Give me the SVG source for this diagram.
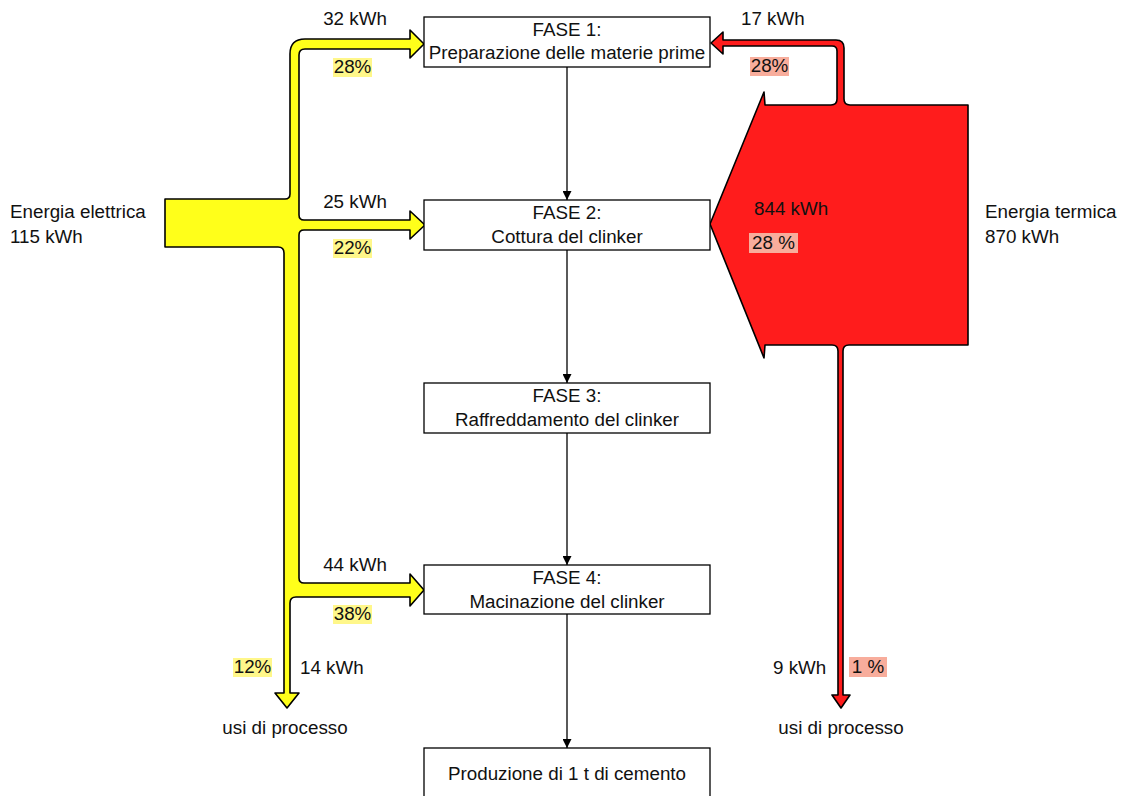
<svg xmlns="http://www.w3.org/2000/svg" width="1126" height="796" viewBox="0 0 1126 796">
  <defs>
    <style>
      text { font-family: "Liberation Sans", Arial, sans-serif; font-size: 18.8px; fill: #111; }
      .mid { text-anchor: middle; }
      .box { fill: #fff; stroke: #000; stroke-width: 1.3; }
      .flow-y { fill: #ffff1a; stroke: #000; stroke-width: 1.6; stroke-linejoin: round; }
      .flow-r { fill: #ff1c1c; stroke: #000; stroke-width: 1.6; stroke-linejoin: round; }
      .hl-y { fill: #fff78a; }
      .hl-r { fill: #f8ad9c; }
      .link { stroke: #000; stroke-width: 1.3; fill: none; }
    </style>
    <marker id="arr" viewBox="0 0 10 10" refX="10" refY="5" markerWidth="9" markerHeight="9" markerUnits="userSpaceOnUse" orient="auto">
      <path d="M0,0 L10,5 L0,10 Z" fill="#000"/>
    </marker>
  </defs>

  <rect width="1126" height="796" fill="#fff"/>

  <!-- process chain links -->
  <g id="connectors">
    <line class="link" x1="567" y1="67" x2="567" y2="200" marker-end="url(#arr)"/>
    <line class="link" x1="567" y1="250" x2="567" y2="383" marker-end="url(#arr)"/>
    <line class="link" x1="567" y1="433" x2="567" y2="565" marker-end="url(#arr)"/>
    <line class="link" x1="567" y1="614" x2="567" y2="748" marker-end="url(#arr)"/>
  </g>

  <!-- electrical energy flow -->
  <g id="flow-elettrica">
    <path class="flow-y" d="M165,199 L285,199 Q290,199 290,194 L290,54 Q290,39 305,39 L410,39 L410,30 L424,44 L410,58 L410,49 L305,49 Q299,49 299,55 L299,215 Q299,220 304,220 L410,220 L410,211 L425,225 L410,239 L410,230 L304,230 Q299,230 299,235 L299,578 Q299,583 304,583 L410,583 L410,574 L424,590 L410,606 L410,597 L296,597 Q290,597 290,603 L290,693 L299,693 L287,708 L275,693 L284,693 L284,253 Q284,247 278,247 L165,247 Z"/>
    <text x="10" y="218">Energia elettrica</text>
    <text x="10" y="243">115 kWh</text>
    <text x="355" y="25" class="mid">32 kWh</text>
    <rect class="hl-y" x="333" y="58" width="39" height="19"/>
    <text x="352.5" y="73" class="mid">28%</text>
    <text x="355" y="208" class="mid">25 kWh</text>
    <rect class="hl-y" x="333" y="239" width="39" height="19"/>
    <text x="352.5" y="254" class="mid">22%</text>
    <text x="355" y="571" class="mid">44 kWh</text>
    <rect class="hl-y" x="333" y="605" width="39" height="19"/>
    <text x="352.5" y="620" class="mid">38%</text>
    <rect class="hl-y" x="233" y="658" width="39" height="19"/>
    <text x="252.5" y="673" class="mid">12%</text>
    <text x="300" y="674">14 kWh</text>
    <text x="285" y="734" class="mid">usi di processo</text>
  </g>

  <!-- thermal energy flow -->
  <g id="flow-termica">
    <path class="flow-r" d="M968,105 L968,345 L849,345 Q843,345 843,351 L843,695 L850,695 L841,708 L832,695 L838,695 L838,351 Q838,345 832,345 L765,345 L764,358 L710,224 L764,92 L765,105 L831,105 Q837,105 837,99 L837,51 Q837,46 832,46 L723,46 L723,54 L711,43 L723,32 L723,40 L836,40 Q844,40 844,48 L844,99 Q844,105 850,105 Z"/>
    <text x="985" y="218">Energia termica</text>
    <text x="985" y="243">870 kWh</text>
    <text x="741" y="25">17 kWh</text>
    <rect class="hl-r" x="750" y="57" width="39" height="19"/>
    <text x="769.5" y="72" class="mid">28%</text>
    <text x="754" y="215">844 kWh</text>
    <rect class="hl-r" x="749" y="233" width="49" height="20"/>
    <text x="773.5" y="249" class="mid">28 %</text>
    <text x="773" y="674">9 kWh</text>
    <rect class="hl-r" x="849" y="657" width="38" height="20"/>
    <text x="868" y="673" class="mid">1 %</text>
    <text x="841" y="734" class="mid">usi di processo</text>
  </g>

  <!-- process steps -->
  <g id="fase1">
    <rect class="box" x="424" y="17" width="286" height="50"/>
    <text x="567" y="36" class="mid">FASE 1:</text>
    <text x="567" y="59" class="mid">Preparazione delle materie prime</text>
  </g>
  <g id="fase2">
    <rect class="box" x="424" y="200" width="286" height="50"/>
    <text x="567" y="219" class="mid">FASE 2:</text>
    <text x="567" y="243" class="mid">Cottura del clinker</text>
  </g>
  <g id="fase3">
    <rect class="box" x="424" y="383" width="286" height="50"/>
    <text x="567" y="402" class="mid">FASE 3:</text>
    <text x="567" y="426" class="mid">Raffreddamento del clinker</text>
  </g>
  <g id="fase4">
    <rect class="box" x="424" y="565" width="286" height="49"/>
    <text x="567" y="584" class="mid">FASE 4:</text>
    <text x="567" y="608" class="mid">Macinazione del clinker</text>
  </g>
  <g id="produzione">
    <rect class="box" x="424" y="748" width="286" height="50"/>
    <text x="567" y="780" class="mid">Produzione di 1 t di cemento</text>
  </g>
</svg>
